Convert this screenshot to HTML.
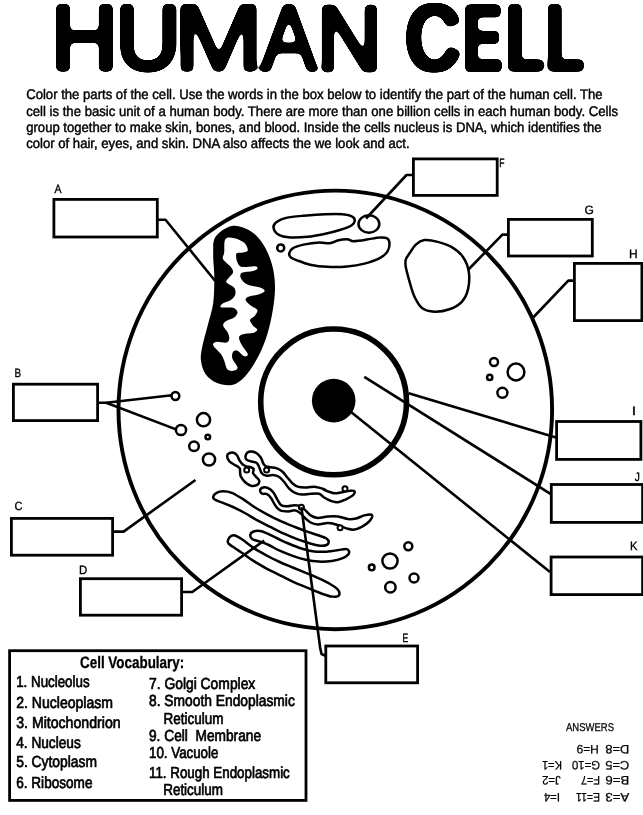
<!DOCTYPE html>
<html lang="en">
<head>
<meta charset="utf-8">
<title>Human Cell</title>
<style>
html,body{margin:0;padding:0;background:#fff;}
body{width:643px;height:815px;overflow:hidden;font-family:'Liberation Sans',sans-serif;}
svg{display:block;text-rendering:geometricPrecision;filter:grayscale(1);}
text{white-space:pre;}
</style>
</head>
<body>
<svg width="643" height="815" viewBox="0 0 643 815">
<defs>
<filter id="rnd0" x="-10%" y="-20%" width="120%" height="140%" color-interpolation-filters="sRGB">
<feGaussianBlur in="SourceAlpha" stdDeviation="2.6" result="b"/>
<feComponentTransfer in="b"><feFuncA type="linear" slope="14" intercept="-6.5"/></feComponentTransfer>
</filter>
<filter id="rnd2" x="-10%" y="-20%" width="120%" height="140%" color-interpolation-filters="sRGB">
<feMorphology in="SourceAlpha" operator="dilate" radius="2 0" result="m"/>
<feGaussianBlur in="m" stdDeviation="2.6" result="b"/>
<feComponentTransfer in="b"><feFuncA type="linear" slope="14" intercept="-6.5"/></feComponentTransfer>
</filter>
</defs>
<rect width="643" height="815" fill="#fff"/>
<!-- title -->
<g font-family="'Liberation Sans', sans-serif" font-weight="400" fill="#000" stroke="#000" stroke-linejoin="round">
<text filter="url(#rnd0)"><tspan x="51.31" y="69.20" font-size="90.70" stroke-width="5.6" textLength="66.31" lengthAdjust="spacingAndGlyphs">H</tspan><tspan x="115.90" y="69.20" font-size="90.70" stroke-width="5.6" textLength="64.22" lengthAdjust="spacingAndGlyphs">U</tspan><tspan x="173.75" y="70.20" font-size="93.60" stroke-width="3.6" textLength="89.61" lengthAdjust="spacingAndGlyphs">M</tspan><tspan x="260.73" y="69.90" font-size="92.73" stroke-width="4.2" textLength="55.94" lengthAdjust="spacingAndGlyphs">A</tspan><tspan x="316.66" y="69.50" font-size="91.57" stroke-width="5.0" textLength="65.20" lengthAdjust="spacingAndGlyphs">N</tspan></text>
<text filter="url(#rnd2)"><tspan x="406.54" y="69.20" font-size="90.70" stroke-width="5.6" textLength="52.49" lengthAdjust="spacingAndGlyphs">C</tspan><tspan x="464.51" y="68.80" font-size="89.53" stroke-width="6.4" textLength="35.88" lengthAdjust="spacingAndGlyphs">E</tspan><tspan x="506.77" y="69.20" font-size="90.70" stroke-width="5.6" textLength="35.18" lengthAdjust="spacingAndGlyphs">L</tspan><tspan x="546.53" y="69.20" font-size="90.70" stroke-width="5.6" textLength="35.62" lengthAdjust="spacingAndGlyphs">L</tspan></text>
</g>
<!-- intro paragraph -->
<g font-family="'Liberation Sans', sans-serif" font-size="14" fill="#000" stroke="#000" stroke-width="0.45">
<text x="26.2" y="99.4" textLength="576.4" lengthAdjust="spacingAndGlyphs">Color the parts of the cell. Use the words in the box below to identify the part of the human cell. The</text>
<text x="26.2" y="115.5" textLength="591.8" lengthAdjust="spacingAndGlyphs">cell is the basic unit of a human body. There are more than one billion cells in each human body. Cells</text>
<text x="26.2" y="131.8" textLength="575.4" lengthAdjust="spacingAndGlyphs">group together to make skin, bones, and blood. Inside the cells nucleus is DNA, which identifies the</text>
<text x="26.2" y="148.2" textLength="383.4" lengthAdjust="spacingAndGlyphs">color of hair, eyes, and skin. DNA also affects the we look and act.</text>
</g>
<!-- cell diagram -->
<ellipse cx="335.3" cy="409.9" rx="216.8" ry="219.3" fill="none" stroke="#000" stroke-width="3.9"/>
<circle cx="333.6" cy="401.9" r="72.9" fill="none" stroke="#000" stroke-width="5.6"/>
<circle cx="333.7" cy="400.6" r="21.8" fill="#000"/>
<path d="M231.9 226.0C226.2 227.1 218.5 232.2 215.4 237.0C212.3 241.8 213.4 248.1 213.2 254.7C213.0 261.3 214.3 268.7 214.3 276.8C214.3 284.9 214.3 295.2 213.2 303.3C212.1 311.4 209.5 318.0 207.7 325.4C205.8 332.8 203.2 341.6 202.1 347.5C201.0 353.4 200.4 356.3 201.0 360.7C201.6 365.1 202.9 370.3 205.5 374.0C208.1 377.7 212.1 381.0 216.5 382.8C220.9 384.6 227.2 386.1 232.0 385.0C236.8 383.9 240.8 381.0 245.2 376.2C249.6 371.4 254.7 363.3 258.4 356.3C262.1 349.3 264.9 341.9 267.3 334.2C269.7 326.5 271.5 318.1 272.8 310.0C274.1 301.9 275.2 293.3 275.0 285.6C274.8 277.9 273.7 270.6 271.7 263.6C269.7 256.6 266.5 249.2 262.8 243.7C259.1 238.2 254.8 233.4 249.6 230.5C244.4 227.6 237.6 224.9 231.9 226.0Z" fill="#000"/>
<path d="M225.3 239.3C227.0 236.9 231.0 237.6 234.2 238.2C237.3 238.7 241.8 240.6 244.1 242.6C246.4 244.6 248.0 248.7 247.8 250.3C247.7 252.0 244.9 252.0 243.0 252.5C241.1 253.1 237.3 252.0 236.4 253.6C235.4 255.3 236.5 260.3 237.5 262.5C238.4 264.7 238.9 266.3 241.9 266.9C244.8 267.5 252.5 265.8 255.1 266.2C257.7 266.6 257.9 268.2 257.3 269.1C256.8 269.9 254.4 270.7 251.8 271.3C249.2 271.9 243.7 271.7 241.9 272.8C240.0 273.9 239.9 276.0 240.8 277.9C241.7 279.9 244.1 282.9 247.4 284.5C250.7 286.2 257.8 286.7 260.6 287.8C263.5 289.0 265.0 290.1 264.6 291.2C264.2 292.3 261.1 293.6 258.4 294.5C255.7 295.4 250.6 295.8 248.5 296.7C246.4 297.6 245.3 298.5 245.6 300.0C246.0 301.5 248.8 303.9 250.7 305.5C252.7 307.2 256.6 308.3 257.3 309.9C258.1 311.6 256.3 313.8 255.1 315.4C253.9 317.1 250.4 318.2 250.0 319.9C249.7 321.5 251.7 323.7 252.9 325.4C254.1 327.0 257.3 328.5 257.3 329.8C257.3 331.1 255.3 332.4 252.9 333.1C250.5 333.8 245.3 333.5 243.0 334.2C240.7 334.9 239.2 335.7 239.0 337.5C238.8 339.4 240.4 342.5 241.9 345.2C243.3 348.0 247.5 352.2 247.8 354.1C248.2 355.9 245.8 356.8 244.1 356.3C242.4 355.7 239.3 351.5 237.5 350.8C235.6 350.0 233.9 350.6 233.0 351.9C232.2 353.2 231.6 355.9 232.4 358.5C233.1 361.1 237.2 365.3 237.5 367.3C237.8 369.3 235.8 370.3 234.2 370.6C232.5 371.0 229.2 371.2 227.5 369.5C225.9 367.9 225.3 363.3 224.2 360.7C223.1 358.1 222.7 356.6 220.9 354.1C219.1 351.5 213.9 347.3 213.2 345.2C212.4 343.2 214.3 342.4 216.5 341.9C218.7 341.5 224.3 343.1 226.4 342.6C228.6 342.0 229.1 340.4 229.3 338.6C229.5 336.9 228.6 334.2 227.5 332.0C226.5 329.8 223.3 327.2 223.1 325.4C222.9 323.5 224.6 322.2 226.4 321.0C228.3 319.7 232.3 319.1 234.2 317.6C236.0 316.2 237.6 313.8 237.5 312.1C237.3 310.5 235.8 308.5 233.0 307.7C230.3 306.9 222.6 308.0 220.9 307.3C219.2 306.5 221.5 304.5 223.1 303.3C224.8 302.1 228.8 301.5 230.8 300.0C232.9 298.5 234.7 296.5 235.3 294.5C235.8 292.4 235.6 289.9 234.2 287.8C232.7 285.8 227.3 284.0 226.4 282.3C225.5 280.7 227.5 279.6 228.6 277.9C229.7 276.3 232.7 274.2 233.0 272.4C233.4 270.6 232.5 269.1 230.8 266.9C229.2 264.7 224.2 261.5 223.1 259.2C222.0 256.8 223.8 255.8 224.2 252.5C224.6 249.2 223.7 241.7 225.3 239.3Z" fill="#fff"/>
<g fill="none" stroke="#000" stroke-width="2.5" stroke-linejoin="round">
<path d="M405.8 259.5C406.4 257.2 407.9 255.8 409.6 253.3C411.3 250.8 413.3 246.8 415.8 244.6C418.3 242.4 421.0 240.6 424.5 240.1C428.0 239.6 432.3 240.4 436.9 241.6C441.4 242.8 447.4 244.5 451.8 247.1C456.2 249.7 460.2 252.9 463.0 257.0C465.8 261.1 468.0 266.5 468.8 271.9C469.6 277.3 469.2 284.4 468.0 289.4C466.8 294.4 464.9 298.5 461.8 301.8C458.7 305.1 454.0 307.7 449.4 309.3C444.8 310.9 439.0 311.9 434.4 311.7C429.8 311.5 425.3 310.5 422.0 308.0C418.7 305.5 416.6 301.2 414.5 296.8C412.4 292.4 411.1 286.9 409.6 281.9C408.2 276.9 406.4 270.7 405.8 267.0C405.2 263.3 405.2 261.8 405.8 259.5Z"/>
<path d="M273.5 227.7C273.1 225.6 274.2 223.8 276.3 222.2C278.4 220.6 281.6 218.9 286.1 217.9C290.7 216.8 297.0 216.3 303.5 215.7C310.1 215.1 318.8 214.4 325.3 214.2C331.8 213.9 338.2 213.7 342.7 214.2C347.3 214.6 350.5 215.6 352.5 216.8C354.5 217.9 354.9 219.7 354.7 221.1C354.5 222.6 353.8 224.0 351.4 225.5C349.1 226.9 344.9 228.5 340.6 229.8C336.2 231.2 330.8 232.6 325.3 233.8C319.9 234.9 313.7 236.2 307.9 236.8C302.1 237.4 295.4 237.8 290.5 237.5C285.6 237.1 281.3 236.3 278.5 234.6C275.7 233.0 273.9 229.7 273.5 227.7Z"/>
<path d="M289.4 252.7C289.8 251.2 290.3 249.7 292.7 248.3C295.0 247.0 299.2 245.6 303.5 244.6C307.9 243.7 314.4 242.7 318.8 242.5C323.1 242.2 326.4 243.7 329.7 243.3C332.9 243.0 335.5 241.0 338.4 240.3C341.3 239.6 344.5 239.1 347.1 239.2C349.6 239.3 350.4 241.1 353.6 241.2C356.9 241.2 362.3 240.3 366.7 239.6C371.0 239.0 376.3 237.6 379.7 237.5C383.2 237.3 385.7 237.5 387.4 238.5C389.0 239.6 389.5 241.8 389.5 244.0C389.5 246.2 389.0 249.2 387.4 251.6C385.7 254.0 383.6 256.1 379.7 258.1C375.9 260.1 369.9 262.2 364.5 263.6C359.1 265.0 353.3 265.9 347.1 266.4C340.9 267.0 333.7 267.1 327.5 266.8C321.3 266.6 315.2 265.8 310.1 264.7C305.0 263.6 300.3 261.6 297.0 260.3C293.7 259.0 291.8 258.3 290.5 257.1C289.2 255.8 289.0 254.1 289.4 252.7Z"/>
<path d="M227.1 456.1C227.1 454.8 228.2 453.8 229.3 453.2C230.4 452.6 232.3 452.4 233.6 452.7C234.8 453.0 236.0 454.0 237.0 455.3C238.0 456.5 238.5 458.8 239.5 460.4C240.5 462.0 241.8 463.7 243.0 464.7C244.1 465.7 245.1 466.0 246.4 466.4C247.7 466.8 249.5 466.8 250.7 467.2C251.9 467.7 253.2 468.0 253.6 469.0C254.0 470.0 252.6 471.9 253.1 473.2C253.5 474.5 255.1 475.6 256.1 476.8C257.2 478.0 259.0 479.3 259.2 480.6C259.4 481.9 258.9 483.8 257.5 484.7C256.1 485.5 253.1 486.1 251.0 485.7C249.0 485.3 246.9 483.8 245.2 482.3C243.5 480.8 241.8 478.3 240.9 476.7C240.1 475.0 240.3 473.8 240.1 472.4C239.8 470.9 240.5 469.4 239.5 468.1C238.6 466.8 236.1 465.8 234.4 464.7C232.7 463.5 230.5 462.7 229.3 461.3C228.1 459.8 227.1 457.5 227.1 456.1Z"/>
<path d="M245.5 456.1C245.7 455.0 246.2 453.5 247.2 452.7C248.2 451.9 250.0 451.4 251.5 451.5C253.1 451.6 255.1 452.2 256.7 453.2C258.2 454.3 259.8 456.1 260.9 457.8C262.1 459.6 262.6 462.4 263.5 463.8C264.3 465.2 264.9 465.8 266.1 466.4C267.2 467.0 268.6 467.0 270.3 467.2C272.0 467.5 274.3 467.4 276.3 468.1C278.3 468.8 280.5 470.0 282.3 471.5C284.2 473.1 285.7 475.5 287.4 477.5C289.2 479.5 290.7 481.9 292.6 483.5C294.4 485.1 296.1 486.3 298.6 486.9C301.0 487.6 304.3 487.4 307.1 487.4C310.0 487.4 312.8 486.6 315.7 486.9C318.5 487.2 322.9 488.7 324.2 489.1C325.6 489.6 322.1 488.9 323.7 489.6C325.3 490.2 330.8 492.8 333.9 493.2C336.9 493.6 339.2 492.6 341.9 492.2C344.6 491.8 347.9 490.9 350.0 490.8C352.1 490.6 354.0 490.4 354.5 491.2C355.0 491.9 354.5 493.9 353.1 495.2C351.6 496.6 348.5 498.1 346.0 499.3C343.5 500.4 340.4 502.0 337.9 502.3C335.4 502.6 333.2 501.7 330.8 500.9C328.5 500.0 325.7 498.4 323.7 497.2C321.8 496.1 321.3 494.3 319.1 493.8C316.9 493.2 313.4 493.6 310.5 493.8C307.7 493.9 304.6 494.8 302.0 494.6C299.4 494.5 297.3 493.9 295.1 492.9C293.0 491.9 291.0 490.5 289.2 488.6C287.3 486.8 285.7 483.8 284.0 481.8C282.3 479.8 280.7 477.8 278.9 476.7C277.0 475.5 274.9 475.1 272.9 474.9C270.9 474.8 268.8 476.1 266.9 475.8C265.1 475.5 263.1 474.7 261.8 473.2C260.5 471.8 260.1 469.0 259.2 467.2C258.4 465.5 258.1 464.0 256.7 463.0C255.2 462.0 252.4 461.8 250.7 461.3C249.0 460.7 247.2 460.4 246.4 459.5C245.5 458.7 245.4 457.3 245.5 456.1Z"/>
<path d="M260.1 490.2C260.2 489.2 261.7 487.9 263.1 487.5C264.4 487.2 266.5 487.4 268.1 488.1C269.8 488.9 271.7 490.3 273.2 492.2C274.7 494.0 275.9 497.1 277.2 499.3C278.6 501.5 279.6 504.1 281.3 505.3C283.0 506.5 285.2 506.3 287.3 506.3C289.5 506.3 292.2 505.3 294.4 505.3C296.6 505.3 298.6 505.5 300.5 506.3C302.3 507.2 303.9 508.9 305.5 510.4C307.2 511.9 308.6 514.2 310.6 515.4C312.6 516.7 314.8 517.7 317.7 517.9C320.5 518.0 324.4 516.7 327.8 516.4C331.2 516.2 334.5 516.0 337.9 516.4C341.3 516.9 345.0 518.7 348.0 519.1C351.0 519.4 353.4 519.1 356.1 518.5C358.8 517.9 361.8 516.1 364.2 515.4C366.5 514.8 368.9 514.3 370.2 514.4C371.6 514.6 372.4 515.3 372.3 516.4C372.1 517.6 370.9 519.8 369.2 521.5C367.5 523.2 364.7 525.2 362.2 526.6C359.6 527.9 356.6 529.3 354.1 529.6C351.5 529.9 350.0 529.4 347.0 528.6C344.0 527.7 339.1 525.4 335.9 524.5C332.7 523.6 330.8 523.1 327.8 523.1C324.8 523.1 320.5 524.6 317.7 524.5C314.8 524.4 312.6 523.5 310.6 522.5C308.6 521.5 307.2 520.0 305.5 518.5C303.9 517.0 302.2 514.8 300.5 513.4C298.8 512.1 297.5 510.7 295.4 510.4C293.4 510.0 290.9 511.4 288.4 511.4C285.8 511.4 282.5 511.4 280.3 510.4C278.1 509.4 276.7 507.3 275.2 505.3C273.7 503.3 272.5 500.1 271.2 498.3C269.8 496.4 268.6 495.0 267.1 494.2C265.6 493.4 263.3 494.3 262.1 493.6C260.9 492.9 259.9 491.2 260.1 490.2Z"/>
<path d="M213.3 496.7C213.6 495.6 214.9 493.7 216.5 492.8C218.2 491.9 220.5 491.3 223.1 491.3C225.6 491.3 228.5 491.5 231.8 492.8C235.0 494.1 239.0 496.6 242.7 498.9C246.3 501.2 249.6 504.0 253.5 506.5C257.5 509.0 262.3 511.8 266.6 514.1C271.0 516.5 275.3 518.7 279.7 520.7C284.0 522.7 288.4 524.4 292.7 526.1C297.1 527.8 301.4 529.5 305.8 531.1C310.2 532.7 315.4 534.2 318.9 535.5C322.3 536.7 324.8 537.4 326.5 538.5C328.1 539.6 328.7 540.9 328.7 542.0C328.7 543.1 327.9 544.4 326.5 545.0C325.0 545.7 322.7 546.0 319.9 545.7C317.2 545.4 314.0 544.6 310.2 543.5C306.3 542.4 301.4 540.8 297.1 539.2C292.7 537.5 288.4 535.7 284.0 533.7C279.7 531.7 275.3 529.4 271.0 527.2C266.6 525.0 262.3 523.0 257.9 520.7C253.5 518.3 249.2 515.4 244.8 513.0C240.5 510.7 235.8 508.3 231.8 506.5C227.8 504.7 223.8 503.3 220.9 502.2C218.0 501.0 215.6 500.2 214.4 499.3C213.1 498.4 212.9 497.8 213.3 496.7Z"/>
<path d="M250.3 534.8C250.5 533.5 251.9 532.2 253.5 531.5C255.2 530.9 257.7 530.7 260.1 531.1C262.4 531.5 264.8 532.5 267.7 533.7C270.6 535.0 274.0 536.9 277.5 538.5C280.9 540.1 284.4 541.9 288.4 543.5C292.4 545.2 297.1 547.2 301.4 548.5C305.8 549.9 310.2 551.1 314.5 551.6C318.9 552.1 323.6 551.8 327.6 551.6C331.6 551.3 335.4 550.5 338.5 550.1C341.5 549.6 344.3 548.8 346.1 549.0C347.8 549.1 348.5 550.2 348.9 551.1C349.3 552.0 349.3 553.2 348.3 554.4C347.2 555.6 345.5 557.0 342.8 558.1C340.1 559.2 335.9 560.4 331.9 560.9C327.9 561.5 323.2 561.8 318.9 561.6C314.5 561.4 310.2 560.8 305.8 559.8C301.4 558.9 297.1 557.5 292.7 555.9C288.4 554.4 283.7 552.5 279.7 550.7C275.7 548.9 272.2 546.6 268.8 545.0C265.3 543.5 261.7 542.3 259.0 541.3C256.3 540.4 253.9 540.3 252.5 539.2C251.0 538.1 250.1 536.1 250.3 534.8Z"/>
<path d="M227.9 540.3C228.2 539.1 229.5 537.1 230.7 536.3C231.9 535.5 233.0 534.9 235.0 535.5C237.0 536.0 239.6 537.7 242.7 539.8C245.7 541.9 249.6 545.3 253.5 547.9C257.5 550.5 262.3 553.1 266.6 555.5C271.0 557.9 275.3 560.0 279.7 562.0C284.0 564.0 288.4 565.7 292.7 567.5C297.1 569.3 301.4 571.1 305.8 572.9C310.2 574.7 314.9 576.5 318.9 578.4C322.9 580.2 326.7 582.0 329.7 583.8C332.8 585.6 335.7 587.6 337.4 589.2C339.0 590.9 339.5 592.4 339.5 593.6C339.5 594.8 338.8 596.0 337.4 596.4C335.9 596.9 333.9 597.1 330.8 596.4C327.8 595.8 323.0 594.1 318.9 592.5C314.7 590.9 310.2 588.9 305.8 587.1C301.4 585.2 297.1 583.6 292.7 581.6C288.4 579.6 284.0 577.3 279.7 575.1C275.3 572.9 271.0 570.9 266.6 568.6C262.3 566.2 257.5 563.5 253.5 560.9C249.6 558.4 246.1 555.7 242.7 553.3C239.2 551.0 235.2 548.4 232.9 546.8C230.5 545.2 229.3 544.6 228.5 543.5C227.7 542.4 227.5 541.5 227.9 540.3Z"/>
<ellipse cx="368.9" cy="224" rx="10.4" ry="8.7"/>
<circle cx="175.4" cy="396.0" r="3.9"/>
<circle cx="181.0" cy="430.0" r="5.1"/>
<circle cx="203.5" cy="419.7" r="6.6"/>
<circle cx="207.8" cy="437.0" r="2.3"/>
<circle cx="194.0" cy="446.3" r="4.8"/>
<circle cx="209.0" cy="459.5" r="6.1"/>
<circle cx="494.0" cy="362.0" r="4.0"/>
<circle cx="516.0" cy="372.0" r="8.4"/>
<circle cx="489.7" cy="377.4" r="2.6"/>
<circle cx="502.4" cy="392.8" r="5.0"/>
<circle cx="408.3" cy="546.2" r="4.0"/>
<circle cx="390.0" cy="561.0" r="7.6"/>
<circle cx="371.7" cy="567.4" r="2.8"/>
<circle cx="414.0" cy="578.0" r="4.5"/>
<circle cx="390.4" cy="587.3" r="5.2"/>
<circle cx="280.7" cy="247.9" r="3.5"/>
</g>
<g fill="#fff" stroke="#000" stroke-width="2">
<circle cx="246.7" cy="470.1" r="2.5"/>
<circle cx="266.6" cy="470.1" r="2.5"/>
<circle cx="345.0" cy="488.7" r="2.5"/>
<circle cx="301.4" cy="507.2" r="2.5"/>
<circle cx="340.1" cy="527.7" r="2.5"/>
</g>
<!-- leader lines -->
<g fill="none" stroke="#000" stroke-width="2.6" stroke-linejoin="round">
<polyline points="158.0,219.7 165.5,219.7 215.2,281.0"/>
<polyline points="99.0,402.7 106.2,402.7 171.8,395.2"/>
<polyline points="106.2,402.7 176.7,429.6"/>
<polyline points="114.0,531.6 123.6,531.6 195.5,480.0"/>
<polyline points="182.0,592.0 192.3,592.0 264.2,540.5"/>
<polyline points="301.4,507.2 320.2,648.0 321.5,654.0 325.5,655.7"/>
<polyline points="412.5,175.0 406.5,175.0 366.0,218.5"/>
<polyline points="507.5,234.6 502.4,234.6 468.0,270.0"/>
<polyline points="573.5,280.6 568.3,280.6 532.7,318.0"/>
<polyline points="408.7,393.3 556.0,437.4"/>
<polyline points="364.3,376.8 550.5,493.8"/>
<polyline points="351.0,412.0 550.0,572.0"/>
</g>
<!-- label boxes -->
<g fill="#fff" stroke="#000" stroke-width="2.8">
<rect x="53.9" y="199.4" width="103.4" height="37.6"/>
<rect x="13.4" y="384.2" width="84.2" height="36.4"/>
<rect x="11.4" y="518.4" width="101.2" height="36.8"/>
<rect x="80.4" y="578.7" width="101.2" height="36.5"/>
<rect x="325.8" y="646.0" width="91.8" height="36.8"/>
<rect x="413.4" y="158.9" width="83.8" height="36.5"/>
<rect x="508.4" y="219.4" width="83.9" height="36.6"/>
<rect x="574.4" y="263.4" width="67.5" height="57.2"/>
<rect x="556.6" y="421.5" width="84.3" height="37.9"/>
<rect x="551.3" y="484.5" width="91.3" height="37.9"/>
<rect x="551.1" y="557.0" width="91.5" height="37.6"/>
</g>
<g font-family="'Liberation Sans', sans-serif" font-size="12" fill="#000" stroke="#000" stroke-width="0.35">
<text transform="translate(54.5 193.2) scale(0.87 1)">A</text>
<text transform="translate(14.6 377.4) scale(0.82 1)">B</text>
<text transform="translate(14.4 510.4) scale(0.92 1)">C</text>
<text transform="translate(79.1 573.6) scale(0.95 1)">D</text>
<text transform="translate(402.6 641.5) scale(0.72 1)">E</text>
<text transform="translate(499.3 166.5) scale(0.72 1)">F</text>
<text transform="translate(584.4 213.6) scale(1.00 1)">G</text>
<text transform="translate(628.9 258.0) scale(1.00 1)">H</text>
<text transform="translate(631.8 414.9) scale(1.30 1)">I</text>
<text transform="translate(634.7 480.5) scale(0.85 1)">J</text>
<text transform="translate(630.1 550.2) scale(0.93 1)">K</text>
</g>
<!-- vocabulary -->
<rect x="9.6" y="650.7" width="296.4" height="149.7" fill="#fff" stroke="#000" stroke-width="2.8"/>
<text x="80" y="668.2" textLength="104.2" lengthAdjust="spacingAndGlyphs" font-family="'Liberation Sans', sans-serif" font-weight="700" font-size="16.6" fill="#000" stroke="#000" stroke-width="0.3">Cell Vocabulary:</text>
<g font-family="'Liberation Sans', sans-serif" font-size="16" fill="#000" stroke="#000" stroke-width="0.7">
<text x="16.2" y="686.9" textLength="73.4" lengthAdjust="spacingAndGlyphs">1. Nucleolus</text>
<text x="16.2" y="707.7" textLength="96.8" lengthAdjust="spacingAndGlyphs">2. Nucleoplasm</text>
<text x="16.2" y="728.3" textLength="104.4" lengthAdjust="spacingAndGlyphs">3. Mitochondrion</text>
<text x="16.2" y="747.7" textLength="64.6" lengthAdjust="spacingAndGlyphs">4. Nucleus</text>
<text x="16.2" y="767.0" textLength="80.8" lengthAdjust="spacingAndGlyphs">5. Cytoplasm</text>
<text x="16.2" y="788.0" textLength="76.3" lengthAdjust="spacingAndGlyphs">6. Ribosome</text>
<text x="149.0" y="689.0" textLength="106.3" lengthAdjust="spacingAndGlyphs">7. Golgi Complex</text>
<text x="149.0" y="706.2" textLength="145.8" lengthAdjust="spacingAndGlyphs">8. Smooth Endoplasmic</text>
<text x="163.6" y="724.2" textLength="59.8" lengthAdjust="spacingAndGlyphs">Reticulum</text>
<text x="149.0" y="740.7" textLength="112.0" lengthAdjust="spacingAndGlyphs">9. Cell  Membrane</text>
<text x="149.0" y="758.0" textLength="69.4" lengthAdjust="spacingAndGlyphs">10. Vacuole</text>
<text x="149.0" y="777.7" textLength="140.8" lengthAdjust="spacingAndGlyphs">11. Rough Endoplasmic</text>
<text x="163.2" y="795.4" textLength="59.8" lengthAdjust="spacingAndGlyphs">Reticulum</text>
</g>
<!-- answers -->
<g font-family="'Liberation Sans', sans-serif" fill="#000" stroke="#000" stroke-width="0.25">
<text x="566" y="730.6" font-size="11.3" textLength="48" lengthAdjust="spacingAndGlyphs">ANSWERS</text>
<text transform="rotate(180 617.3 749.0)" x="605.3" y="753.3" font-size="12.2" textLength="24.0" lengthAdjust="spacingAndGlyphs">D=8</text>
<text transform="rotate(180 587.7 749.0)" x="576.6" y="753.3" font-size="12.2" textLength="22.2" lengthAdjust="spacingAndGlyphs">H=9</text>
<text transform="rotate(180 617.3 764.9)" x="605.3" y="769.2" font-size="12.2" textLength="24.0" lengthAdjust="spacingAndGlyphs">C=5</text>
<text transform="rotate(180 586.0 764.9)" x="572.0" y="769.2" font-size="12.2" textLength="28.0" lengthAdjust="spacingAndGlyphs">G=10</text>
<text transform="rotate(180 552.0 764.9)" x="542.0" y="769.2" font-size="12.2" textLength="20.0" lengthAdjust="spacingAndGlyphs">K=1</text>
<text transform="rotate(180 617.3 780.6)" x="605.3" y="785.0" font-size="12.2" textLength="24.0" lengthAdjust="spacingAndGlyphs">B=6</text>
<text transform="rotate(180 590.5 780.6)" x="581.0" y="785.0" font-size="12.2" textLength="19.0" lengthAdjust="spacingAndGlyphs">F=7</text>
<text transform="rotate(180 551.4 780.6)" x="542.0" y="785.0" font-size="12.2" textLength="18.7" lengthAdjust="spacingAndGlyphs">J=2</text>
<text transform="rotate(180 617.3 796.9)" x="605.3" y="801.2" font-size="12.2" textLength="24.0" lengthAdjust="spacingAndGlyphs">A=3</text>
<text transform="rotate(180 588.0 796.9)" x="576.0" y="801.2" font-size="12.2" textLength="24.0" lengthAdjust="spacingAndGlyphs">E=11</text>
<text transform="rotate(180 552.0 796.9)" x="544.0" y="801.2" font-size="12.2" textLength="16.0" lengthAdjust="spacingAndGlyphs">I=4</text>
</g>
</svg>
</body>
</html>
